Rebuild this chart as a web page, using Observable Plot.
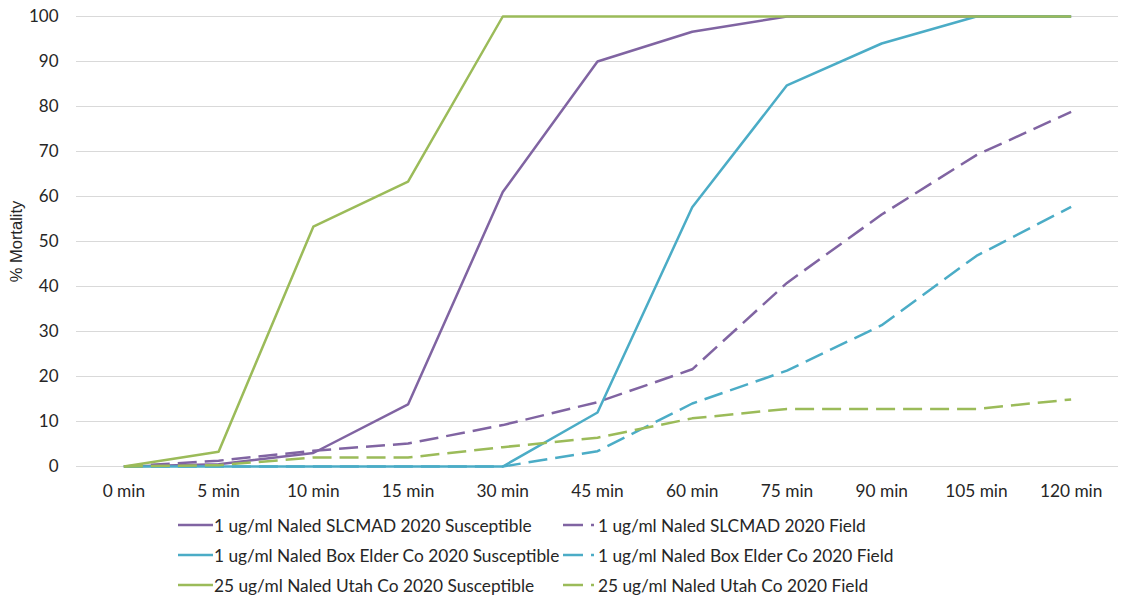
<!DOCTYPE html>
<html>
<head>
<meta charset="utf-8">
<script src="https://cdn.jsdelivr.net/npm/d3@7"></script>
<script src="https://cdn.jsdelivr.net/npm/@observablehq/plot@0.6"></script>
<style>
  html, body { margin: 0; padding: 0; background: #fff; }
  #wrap { position: relative; width: 1130px; height: 596px; font-family: Lato, "Open Sans", sans-serif; color: #262626; }
  #chart svg { display: block; }
  #chart g[aria-label="y-axis label"] text { font-family: "Liberation Sans", Arial, sans-serif; font-size: 16.5px; }
  .leg { position: absolute; display: flex; align-items: center; font-size: 17.3px; white-space: nowrap; height: 20px; }
  .leg svg { display: block; }
</style>
</head>
<body>
<div id="wrap">
  <div id="chart"></div>
  <div id="legend"></div>
</div>
<script>
const times = ["0 min", "5 min", "10 min", "15 min", "30 min", "45 min", "60 min", "75 min", "90 min", "105 min", "120 min"];
const yTicks = [0, 10, 20, 30, 40, 50, 60, 70, 80, 90, 100];

const slcmadSusceptible = [0, 0.5, 3, 13.8, 61, 90, 96.6, 100, 100, 100, 100];
const slcmadField       = [0, 1.3, 3.5, 5.1, 9.2, 14.3, 21.6, 40.8, 56, 69.2, 78.8];
const boxElderSusceptible = [0, 0, 0, 0, 0, 12, 57.6, 84.7, 94, 100, 100];
const boxElderField       = [0, 0, 0, 0, 0, 3.4, 14, 21.3, 31.4, 46.8, 57.7];
const utahSusceptible = [0, 3.3, 53.3, 63.3, 100, 100, 100, 100, 100, 100, 100];
const utahField       = [0, 0.3, 2, 2, 4.3, 6.4, 10.7, 12.8, 12.8, 12.8, 14.9];

const seriesNames = [
  "1 ug/ml Naled SLCMAD 2020 Susceptible",
  "1 ug/ml Naled SLCMAD 2020 Field",
  "1 ug/ml Naled Box Elder Co 2020 Susceptible",
  "1 ug/ml Naled Box Elder Co 2020 Field",
  "25 ug/ml Naled Utah Co 2020 Susceptible",
  "25 ug/ml Naled Utah Co 2020 Field"
];
const seriesValues = [slcmadSusceptible, slcmadField, boxElderSusceptible, boxElderField, utahSusceptible, utahField];
const seriesColors = ["#8064a2", "#8064a2", "#4bacc6", "#4bacc6", "#9bbb59", "#9bbb59"];
const seriesDashed = [false, true, false, true, false, true];

const lineMarks = seriesNames.map((name, k) => {
  const rows = times.map((t, i) => ({time: t, value: seriesValues[k][i], series: name}));
  return Plot.lineY(rows, {
    x: "time", y: "value",
    stroke: seriesColors[k],
    strokeWidth: 2.5,
    strokeDasharray: seriesDashed[k] ? "19,8" : null,
    strokeLinejoin: "round",
    strokeLinecap: "butt"
  });
});

const chart = Plot.plot({
  width: 1130,
  height: 505,
  marginTop: 16,
  marginBottom: 39,
  marginLeft: 76,
  marginRight: 12,
  style: {fontFamily: "Lato, 'Open Sans', sans-serif", fontSize: "17px", color: "#262626", background: "#fff"},
  x: {type: "point", domain: times, padding: 0.5, round: false},
  y: {domain: [0, 100]},
  marks: [
    Plot.gridY(yTicks, {stroke: "#d9d9d9", strokeOpacity: 1, strokeWidth: 1}),
    Plot.axisX({tickSize: 0, tickPadding: 18, label: null, fontSize: 17.3}),
    Plot.axisY(yTicks, {tickSize: 0, tickPadding: 18, label: "% Mortality", labelAnchor: "center", labelOffset: 66, labelArrow: "none", fontSize: 17}),
    ...lineMarks
  ]
});
document.getElementById("chart").appendChild(chart);

// Legend (2 columns, 3 rows)
const legend = document.getElementById("legend");
const colX = [178, 563];
const rowY = [515, 545, 575];
seriesNames.forEach((name, k) => {
  const col = k % 2, row = Math.floor(k / 2);
  const div = document.createElement("div");
  div.className = "leg";
  div.style.left = colX[col] + "px";
  div.style.top = rowY[row] + "px";
  const w = col === 0 ? 35 : 33;
  const dash = seriesDashed[k] ? ' stroke-dasharray="20,8,3,20"' : '';
  div.innerHTML = `<svg width="${w}" height="20"><line x1="0" x2="${w}" y1="10" y2="10" stroke="${seriesColors[k]}" stroke-width="2.5"${dash}/></svg><span style="margin-left:${col === 0 ? 1 : 2}px">${name}</span>`;
  legend.appendChild(div);
});
</script>
</body>
</html>
